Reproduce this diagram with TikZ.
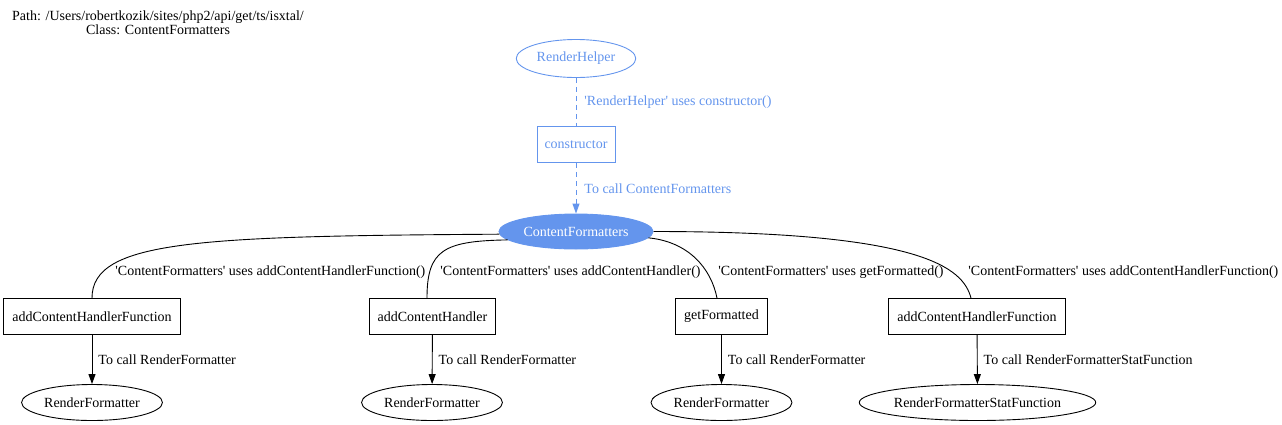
\documentclass[tikz,border=0pt]{standalone}
\usepackage{fontspec}
\setmainfont{Liberation Serif}[Ligatures=TeXOff]
\usepackage{color}
\definecolor{mycornflower}{RGB}{100,149,237}
\usepackage{tikz}
\usetikzlibrary{arrows.meta,shapes.geometric,positioning}
\tikzstyle{method}=[draw,rectangle,minimum height=36pt,inner xsep=8.5pt,inner ysep=0pt]
\tikzstyle{target}=[draw,ellipse,minimum height=36pt,inner xsep=2pt,inner ysep=0pt]
\tikzstyle{calls}=[-{Triangle[length=10pt,width=7pt]}]
\tikzstyle{uses}=[inner sep=0pt,anchor=west]
\begin{document}
\begin{tikzpicture}[x=1pt,y=-1pt,line width=0.9pt,font=\fontsize{14pt}{14pt}\selectfont]
\useasboundingbox (0,0) rectangle (1282,424);
\node[align=center,inner sep=0pt] (title) at (158,23) {Path: /Users/robertkozik/sites/php2/api/get/ts/isxtal/\\Class: ContentFormatters};
% caller side
\node[target,draw=mycornflower,text=mycornflower,minimum height=38pt,inner xsep=3pt] (rh) at (576,58.5) {RenderHelper};
\node[method,draw=mycornflower,text=mycornflower,inner xsep=7.5pt] (ctor) at (576,144.5) {constructor};
\node[target,draw=mycornflower,fill=mycornflower,text=white,minimum height=35pt] (cf) at (576,231.5) {ContentFormatters};
\draw[mycornflower,dash pattern=on 5pt off 4pt] (rh) -- (ctor) node[midway,right=8pt,inner sep=0pt] {'RenderHelper' uses constructor()};
\draw[mycornflower,dash pattern=on 5pt off 4pt,calls] (ctor) -- (cf) node[midway,right=8pt,inner sep=0pt] {To call ContentFormatters};
% methods
\node[method] (m1) at (92,316.5) {addContentHandlerFunction};
\node[method] (m2) at (432.5,316.5) {addContentHandler};
\node[method] (m3) at (721.5,316.5) {getFormatted};
\node[method] (m4) at (977,316.5) {addContentHandlerFunction};
% callees
\node[target] (r1) at (92,402.5) {RenderFormatter};
\node[target] (r2) at (432,402.5) {RenderFormatter};
\node[target] (r3) at (721.5,402.5) {RenderFormatter};
\node[target,inner xsep=0pt] (r4) at (977.5,402.5) {RenderFormatterStatFunction};
\draw (cf.182) .. controls +(-300,2) and +(0,-58) .. (m1.north);
\draw (cf.187) .. controls +(-64,1) and +(0,-48) .. ([xshift=-5.5pt]m2.north);
\draw (cf.355) .. controls +(40,4) and +(-6,-30) .. ([xshift=-4.5pt]m3.north);
\draw (cf.east) .. controls +(270,0) and +(-8,-30) .. ([xshift=-6pt]m4.north);
\node[uses] (u1) at (115,272) {'ContentFormatters' uses addContentHandlerFunction()};
\node[uses] (u2) at (440,272) {'ContentFormatters' uses addContentHandler()};
\node[uses] (u3) at (718,272) {'ContentFormatters' uses getFormatted()};
\node[uses] (u4) at (968,272) {'ContentFormatters' uses addContentHandlerFunction()};
\draw[calls] (m1) -- (r1) node[midway,right=6pt,inner sep=0pt] {To call RenderFormatter};
\draw[calls] (m2) -- (r2) node[midway,right=6pt,inner sep=0pt] {To call RenderFormatter};
\draw[calls] (m3) -- (r3) node[midway,right=6pt,inner sep=0pt] {To call RenderFormatter};
\draw[calls] (m4) -- (r4) node[midway,right=6pt,inner sep=0pt] {To call RenderFormatterStatFunction};
\end{tikzpicture}
\end{document}
